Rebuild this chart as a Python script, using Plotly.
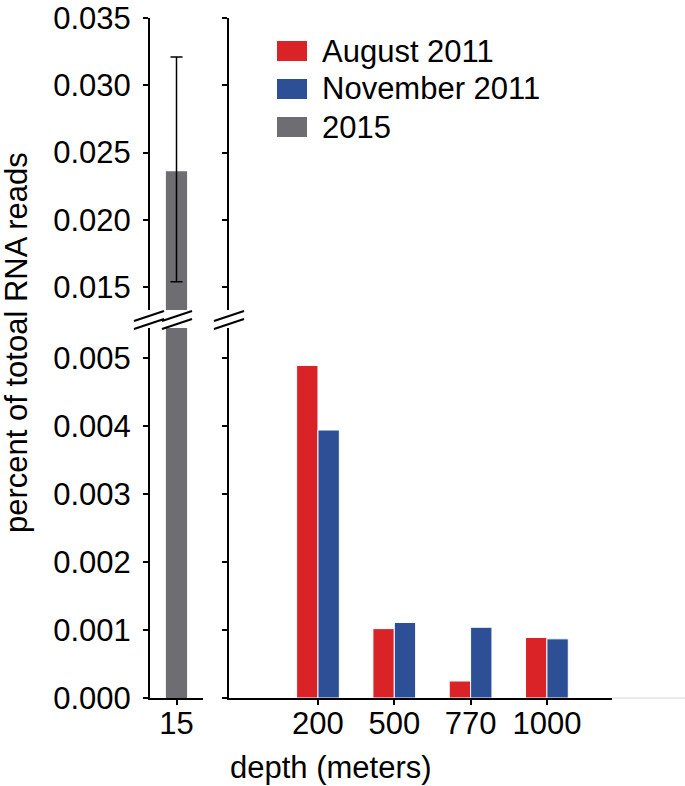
import plotly.graph_objects as go

# data
depths = ['200', '500', '770', '1000']
aug_2011 = [0.00489, 0.00102, 0.00025, 0.00089]
nov_2011 = [0.00394, 0.00111, 0.00104, 0.00087]
surface_depth = ['15']
surface_2015 = [0.0236]
err_plus = [0.0085]
err_minus = [0.0082]

legend_names = ['August 2011', 'November 2011', '2015']
upper_ticks = [0.015, 0.020, 0.025, 0.030, 0.035]
lower_ticks = [0.000, 0.001, 0.002, 0.003, 0.004, 0.005]

RED = '#d92327'
BLUE = '#2c4f96'
GRAY = '#6e6e72'
FONT = 'Liberation Sans, Arial, sans-serif'
W, H = 685, 786


def px(x, y):
    # screen pixels -> paper coordinates
    return x / W, 1 - y / H


fig = go.Figure()

# right panel, lower part
fig.add_trace(go.Bar(x=depths, y=aug_2011, name=legend_names[0], marker_color=RED,
                     marker_line=dict(color='white', width=1), width=0.28, offset=-0.28,
                     xaxis='x2', yaxis='y3'))
fig.add_trace(go.Bar(x=depths, y=nov_2011, name=legend_names[1], marker_color=BLUE,
                     marker_line=dict(color='white', width=1), width=0.28, offset=0,
                     xaxis='x2', yaxis='y3'))
# left panel, upper part (with error bar) and lower part
fig.add_trace(go.Bar(x=surface_depth, y=surface_2015, name=legend_names[2], marker_color=GRAY,
                     marker_line_width=0, width=0.4, offset=-0.2,
                     error_y=dict(type='data', array=err_plus, arrayminus=err_minus,
                                  color='black', thickness=1.5, width=6),
                     xaxis='x3', yaxis='y2'))
fig.add_trace(go.Bar(x=surface_depth, y=surface_2015, name=legend_names[2], marker_color=GRAY,
                     marker_line_width=0, width=0.4, offset=-0.2,
                     xaxis='x', yaxis='y'))
# keep the upper right axis alive
fig.add_trace(go.Bar(x=depths, y=[None] * 4, xaxis='x4', yaxis='y4'))

x_left = [px(150, 0)[0], px(203, 0)[0]]
x_right = [px(229, 0)[0], px(612, 0)[0]]
y_low = [px(0, 698)[1], px(0, 328)[1]]
y_up = [px(0, 310)[1], px(0, 17.8)[1]]
low_range = [0, 0.00544]
up_range = [0.01329, 0.03502]

axis_common = dict(showline=True, linecolor='black', linewidth=2, ticks='outside',
                   ticklen=5, tickwidth=2, tickcolor='black', showgrid=False,
                   zeroline=False, automargin=False,
                   tickfont=dict(family=FONT, size=31, color='black'))

fig.update_layout(
    width=W, height=H,
    margin=dict(l=0, r=0, t=0, b=0),
    plot_bgcolor='white', paper_bgcolor='white',
    barmode='overlay',
    showlegend=False,
    font=dict(family=FONT, size=31, color='black'),
    xaxis=dict(domain=x_left, anchor='y', type='category', range=[-0.5, 0.5],
               ticklabelstandoff=-8, **axis_common),
    xaxis2=dict(domain=x_right, anchor='y3', type='category', categoryarray=depths,
                range=[-1.166, 3.853], ticklabelstandoff=-8, **axis_common),
    xaxis3=dict(domain=x_left, anchor='y2', type='category', range=[-0.5, 0.5], visible=False),
    xaxis4=dict(domain=x_right, anchor='y4', type='category', categoryarray=depths,
                range=[-1.166, 3.853], visible=False),
    yaxis=dict(domain=y_low, anchor='x', range=low_range, tickvals=lower_ticks,
               tickformat='.3f', ticklabelstandoff=6, **axis_common),
    yaxis2=dict(domain=y_up, anchor='x3', range=up_range, tickvals=upper_ticks,
                tickformat='.3f', ticklabelstandoff=6, **axis_common),
    yaxis3=dict(domain=y_low, anchor='x2', range=low_range, tickvals=lower_ticks,
                showticklabels=False, **axis_common),
    yaxis4=dict(domain=y_up, anchor='x4', range=up_range, tickvals=upper_ticks,
                showticklabels=False, **axis_common),
)

# legend: swatches and labels
for i, (name, col) in enumerate(zip(legend_names, [RED, BLUE, GRAY])):
    cy = 51 + 38 * i
    a = px(277, cy - 10)
    b = px(307, cy + 10)
    fig.add_shape(type='rect', xref='paper', yref='paper', x0=a[0], x1=b[0], y0=b[1], y1=a[1],
                  fillcolor=col, line=dict(width=0))
    t = px(320, cy)
    fig.add_annotation(text=name, x=t[0], y=t[1], xref='paper', yref='paper',
                       xanchor='left', yanchor='middle', showarrow=False,
                       font=dict(family=FONT, size=31))

# axis titles
ax, ay = px(17, 343)
fig.add_annotation(text='percent of totoal RNA reads', x=ax, y=ay, xref='paper', yref='paper',
                   xanchor='center', yanchor='middle', textangle=-90, showarrow=False,
                   font=dict(family=FONT, size=31))
ax, ay = px(331, 767)
fig.add_annotation(text='depth (meters)', x=ax, y=ay, xref='paper', yref='paper',
                   xanchor='center', yanchor='middle', showarrow=False,
                   font=dict(family=FONT, size=31))

# faint continuation of the baseline
x0, y0 = px(612, 698)
x1, _ = px(685, 698)
fig.add_shape(type='line', xref='paper', yref='paper', x0=x0, x1=x1, y0=y0, y1=y0,
              line=dict(color='#e4e4e4', width=1.5))

# axis-break marks: two parallel slashes with white between them
for cx in [149, 177, 229]:
    dx, rise, gap = 15, 5, 8
    cy = 320
    a = px(cx - dx, cy + rise - gap / 2)
    b = px(cx + dx, cy - rise - gap / 2)
    c = px(cx + dx, cy - rise + gap / 2)
    d = px(cx - dx, cy + rise + gap / 2)
    fig.add_shape(type='path', xref='paper', yref='paper',
                  path=f'M {a[0]} {a[1]} L {b[0]} {b[1]} L {c[0]} {c[1]} L {d[0]} {d[1]} Z',
                  fillcolor='white', line=dict(width=0))
    for p, q in [(a, b), (d, c)]:
        fig.add_shape(type='line', xref='paper', yref='paper', x0=p[0], y0=p[1],
                      x1=q[0], y1=q[1], line=dict(color='black', width=2))

# drop the default page margin so the figure sits at the window's corner
fig.write_html('out.html', config={'displayModeBar': False},
               post_script="document.body.style.margin='0';")
